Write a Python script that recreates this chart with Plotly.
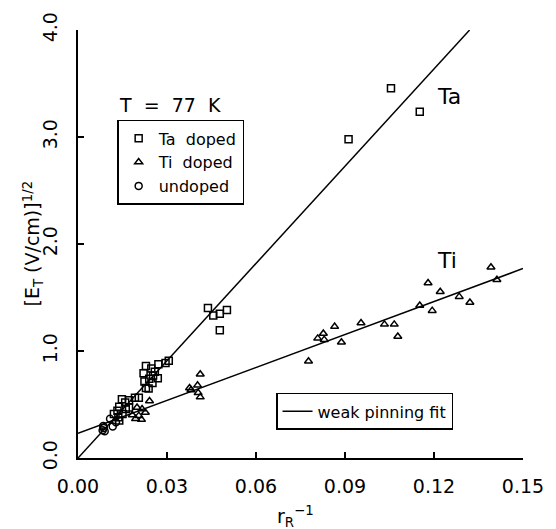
import numpy as np
import plotly.graph_objects as go

# ---- data ----
ta_x = [0.1055, 0.1152, 0.0912,
        0.0438, 0.0456, 0.0478, 0.0502, 0.0478,
        0.0229, 0.0247, 0.0271, 0.0295, 0.0306, 0.0259, 0.0253, 0.0221, 0.0224,
        0.0240, 0.0229, 0.0251, 0.0269, 0.0238, 0.0205, 0.0192, 0.0172, 0.0148,
        0.0159, 0.0139, 0.0133, 0.0150, 0.0136, 0.0161, 0.0172, 0.0121, 0.0139]
ta_y = [3.455, 3.236, 2.980,
        1.401, 1.331, 1.349, 1.383, 1.194,
        0.859, 0.837, 0.877, 0.889, 0.908, 0.807, 0.771, 0.792, 0.716,
        0.740, 0.655, 0.700, 0.746, 0.649, 0.563, 0.563, 0.539, 0.548,
        0.518, 0.478, 0.442, 0.411, 0.380, 0.457, 0.472, 0.411, 0.350]

ti_x = [0.1392, 0.1412, 0.1180, 0.1221, 0.1285, 0.1321, 0.1152, 0.1194,
        0.0954, 0.1033, 0.1066, 0.1078, 0.0865, 0.0827, 0.0808, 0.0830, 0.0888, 0.0777,
        0.0412, 0.0403, 0.0376, 0.0381, 0.0405, 0.0412,
        0.0241, 0.0199, 0.0216, 0.0227, 0.0205, 0.0194, 0.0214, 0.0183]
ti_y = [1.782, 1.666, 1.636, 1.554, 1.508, 1.453, 1.426, 1.377,
        1.261, 1.249, 1.249, 1.136, 1.228, 1.164, 1.118, 1.106, 1.081, 0.905,
        0.783, 0.679, 0.655, 0.636, 0.609, 0.569,
        0.533, 0.472, 0.457, 0.426, 0.396, 0.366, 0.359, 0.402]

un_x = [0.0083, 0.0087, 0.0090, 0.0085, 0.0108, 0.0117, 0.0128]
un_y = [0.260, 0.280, 0.250, 0.300, 0.366, 0.295, 0.335]

# weak pinning fits: (slope, intercept, x_max)
ta_fit = (30.3, 0.0, 0.132)
ti_fit = (10.27, 0.23, 0.15)

x_ticks = [0.00, 0.03, 0.06, 0.09, 0.12, 0.15]
y_ticks = [0.0, 1.0, 2.0, 3.0, 4.0]

FONT = "DejaVu Sans"
NB = "\u00a0"

fig = go.Figure()

for i, (s, b, xm) in enumerate([ta_fit, ti_fit]):
    xx = np.array([0.0, xm])
    fig.add_trace(go.Scatter(x=xx, y=s * xx + b, mode="lines",
                             line=dict(color="black", width=1.5),
                             name="weak" + NB + "pinning" + NB + "fit", legend="legend2",
                             showlegend=(i == 0)))

mk = dict(color="black", size=7, line=dict(color="black", width=1.5))
fig.add_trace(go.Scatter(x=ta_x, y=ta_y, mode="markers", name="Ta" + NB * 2 + "doped",
                         marker=dict(symbol="square-open", **mk)))
fig.add_trace(go.Scatter(x=ti_x, y=ti_y, mode="markers", name="Ti" + NB * 2 + "doped",
                         marker=dict(symbol="triangle-up-open", **mk)))
fig.add_trace(go.Scatter(x=un_x, y=un_y, mode="markers", name="undoped",
                         marker=dict(symbol="circle-open", **mk)))

axis_common = dict(showline=True, linecolor="black", linewidth=1.5,
                   ticks="inside", ticklen=6, tickwidth=1.5, tickcolor="black",
                   showgrid=False, zeroline=False, mirror=False,
                   tickfont=dict(family=FONT, size=19, color="black"))

fig.update_layout(
    width=556, height=529,
    margin=dict(l=78, r=24, t=20, b=71),
    paper_bgcolor="white", plot_bgcolor="white",
    font=dict(family=FONT, color="black"),
    xaxis=dict(range=[0, 0.15], tickvals=x_ticks, tickformat=".2f",
               ticklabelstandoff=10, **axis_common),
    yaxis=dict(range=[0, 4.0], tickvals=y_ticks, tickformat=".1f",
               tickangle=-90, ticklabelstandoff=12, **axis_common),
    legend=dict(x=0.088, y=0.79, xanchor="left", yanchor="top",
                bordercolor="black", borderwidth=1.5, bgcolor="white",
                font=dict(family=FONT, size=16, color="black"),
                itemwidth=30, tracegroupgap=0),
    legend2=dict(x=0.445, y=0.152, xanchor="left", yanchor="top",
                 bordercolor="black", borderwidth=1.5, bgcolor="white",
                 font=dict(family=FONT, size=16, color="black")),
    showlegend=True,
)

fig.add_annotation(text="[E<sub>T</sub>" + NB + "(V/cm)]<sup>1/2</sup>", textangle=-90,
                   xref="paper", yref="y", x=0, y=2.0, xshift=-61,
                   showarrow=False, font=dict(family=FONT, size=19))
fig.add_annotation(text="r<sub>R</sub><sup>−1</sup>", xref="x", yref="paper",
                   x=0.0733, y=0, yshift=-58, yanchor="middle",
                   showarrow=False, font=dict(family=FONT, size=19))
fig.add_annotation(text="T" + NB * 2 + "=" + NB * 2 + "77" + NB * 2 + "K",
                   xref="x", yref="y", x=0.0132, y=3.30,
                   xanchor="left", showarrow=False, font=dict(family=FONT, size=19))
fig.add_annotation(text="Ta", xref="x", yref="y", x=0.1203, y=3.376,
                   xanchor="left", showarrow=False, font=dict(family=FONT, size=22))
fig.add_annotation(text="Ti", xref="x", yref="y", x=0.1203, y=1.85,
                   xanchor="left", showarrow=False, font=dict(family=FONT, size=22))

fig.write_html("out.html")
